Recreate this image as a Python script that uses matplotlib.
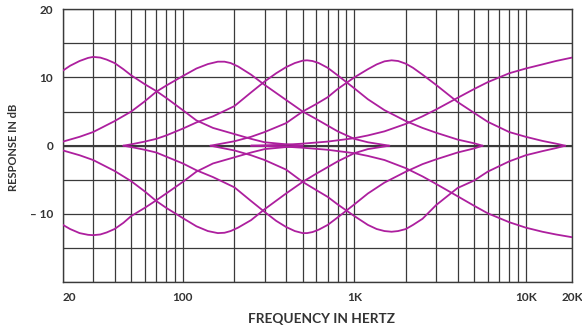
import numpy as np
import matplotlib
matplotlib.use("Agg")
import matplotlib.pyplot as plt
from matplotlib.ticker import LogLocator, NullFormatter

# values (frequency in Hz, response in dB)
bass_f = [20, 22, 25, 28, 30, 33, 36, 40, 45, 50, 60, 70, 80, 100, 120, 150, 200, 250, 300, 400, 500]
bass_boost = [11.0, 11.7, 12.4, 12.85, 13.0, 12.9, 12.6, 12.1, 11.2, 10.3, 9.0, 8.0, 7.0, 5.2, 3.7, 2.6, 1.7, 1.0, 0.5, 0.2, 0.0]
bass_cut = [-11.6, -12.2, -12.8, -13.05, -13.1, -13.0, -12.7, -12.2, -11.3, -10.3, -9.1, -8.0, -7.0, -5.3, -3.8, -2.6, -1.7, -1.0, -0.5, -0.2, 0.0]

low_mid_f = [20, 25, 30, 40, 50, 60, 70, 80, 100, 120, 140, 160, 175, 190, 210, 250, 300, 400, 500, 600, 800, 1000, 1200, 1600]
low_mid_boost = [0.6, 1.3, 2.0, 3.6, 5.0, 6.5, 7.9, 8.8, 10.2, 11.3, 11.95, 12.3, 12.3, 12.1, 11.6, 10.4, 8.9, 6.7, 5.0, 3.9, 2.1, 1.0, 0.5, 0.0]
low_mid_cut = [-0.7, -1.4, -2.1, -3.7, -5.2, -6.7, -8.1, -9.1, -10.6, -11.8, -12.5, -12.8, -12.75, -12.5, -12.0, -10.9, -9.3, -7.0, -5.3, -4.1, -2.3, -1.1, -0.5, 0.0]

mid_f = [45, 50, 60, 70, 80, 100, 120, 150, 200, 250, 300, 350, 400, 450, 500, 530, 570, 620, 700, 800, 1000, 1200, 1500, 2000, 2500, 3000, 4000, 5000, 5600]
mid_boost = [0.0, 0.2, 0.6, 1.0, 1.5, 2.5, 3.4, 4.3, 5.8, 7.8, 9.4, 10.6, 11.5, 12.1, 12.45, 12.5, 12.4, 12.1, 11.4, 10.3, 8.4, 6.8, 5.2, 3.6, 2.6, 1.9, 0.9, 0.35, 0.0]
mid_cut = [0.0, -0.2, -0.6, -1.0, -1.6, -2.6, -3.6, -4.6, -6.1, -8.1, -9.7, -11.0, -11.9, -12.5, -12.8, -12.8, -12.65, -12.3, -11.6, -10.5, -8.6, -7.0, -5.4, -3.8, -2.7, -2.0, -1.0, -0.4, 0.0]

high_mid_f = [145, 200, 250, 300, 400, 500, 600, 700, 800, 1000, 1200, 1350, 1500, 1650, 1800, 2000, 2200, 2500, 3000, 4000, 5000, 6000, 8000, 10000, 12500, 15000, 17000]
high_mid_boost = [0.0, 0.65, 1.3, 2.0, 3.3, 5.0, 6.1, 7.1, 8.3, 10.0, 11.2, 11.9, 12.35, 12.5, 12.4, 12.0, 11.4, 10.4, 8.9, 6.4, 4.8, 3.5, 2.0, 1.3, 0.7, 0.3, 0.0]
high_mid_cut = [0.0, -0.7, -1.4, -2.1, -3.5, -5.3, -6.5, -7.5, -8.6, -10.3, -11.6, -12.2, -12.5, -12.6, -12.5, -12.2, -11.6, -10.7, -8.7, -6.2, -5.1, -3.8, -2.3, -1.4, -0.8, -0.35, 0.0]

treble_f = [250, 400, 500, 700, 1000, 1200, 1500, 2000, 2500, 3000, 4000, 5000, 6000, 8000, 10000, 12500, 15000, 18600]
treble_boost = [0.0, 0.15, 0.3, 0.6, 1.1, 1.5, 2.1, 3.2, 4.3, 5.3, 7.0, 8.3, 9.3, 10.6, 11.3, 11.9, 12.4, 12.9]
treble_cut = [0.0, -0.15, -0.3, -0.6, -1.1, -1.5, -2.1, -3.3, -4.5, -5.6, -7.4, -8.8, -9.9, -11.2, -12.0, -12.6, -13.0, -13.4]

x_ticks = [20, 100, 1000, 10000, 18600]
x_labels = ["20", "100", "1K", "10K", "20K"]
y_ticks = [-20, -15, -10, -5, 0, 5, 10, 15, 20]
y_labels = ["", "", "\u2013 10", "", "0", "", "10", "", "20"]

curve_color = "#ad1f9e"
grid_color = "#3a3a3a"
text_color = "#333333"

plt.rcParams['font.family'] = ['Lato', 'DejaVu Sans']

fig = plt.figure(figsize=(5.82, 3.33), dpi=100)
ax = fig.add_axes([0.1082, 0.1523, 0.8746, 0.8204])

curves = [
    (bass_f, bass_boost), (bass_f, bass_cut),
    (low_mid_f, low_mid_boost), (low_mid_f, low_mid_cut),
    (mid_f, mid_boost), (mid_f, mid_cut),
    (high_mid_f, high_mid_boost), (high_mid_f, high_mid_cut),
    (treble_f, treble_boost), (treble_f, treble_cut),
]
for f, db in curves:
    ax.plot(f, db, color=curve_color, lw=1.3, solid_joinstyle='round',
            solid_capstyle='round', zorder=3)

ax.set_xscale('log')
ax.set_xlim(20, 18600)
ax.set_ylim(-20, 20)

ax.set_xticks(x_ticks)
ax.set_xticklabels(x_labels)
ax.xaxis.set_minor_locator(LogLocator(base=10, subs=np.arange(2, 10)))
ax.xaxis.set_minor_formatter(NullFormatter())
ax.set_yticks(y_ticks)
ax.set_yticklabels(y_labels)

ax.grid(True, which='both', axis='x', color=grid_color, lw=0.9, zorder=1)
ax.grid(True, which='major', axis='y', color=grid_color, lw=0.9, zorder=1)
ax.axhline(0, color=grid_color, lw=1.5, zorder=2)

for s in ax.spines.values():
    s.set_color(grid_color)
    s.set_linewidth(1.0)

ax.tick_params(which='both', length=0, labelsize=8.5, labelcolor=text_color, pad=7)
for lab in ax.get_xticklabels() + ax.get_yticklabels():
    lab.set_fontweight('bold')
ax.get_xticklabels()[0].set_horizontalalignment('left')

fig.text(321 / 582, 1 - 319 / 333, "FREQUENCY IN HERTZ", ha='center', va='center',
         fontsize=9.8, fontweight='bold', color=text_color)
fig.text(14 / 582, 1 - 147 / 333, "RESPONSE IN dB", ha='center', va='center',
         rotation=90, fontsize=8, fontweight='bold', color=text_color)

fig.savefig("out.png", dpi=100, facecolor='white')
